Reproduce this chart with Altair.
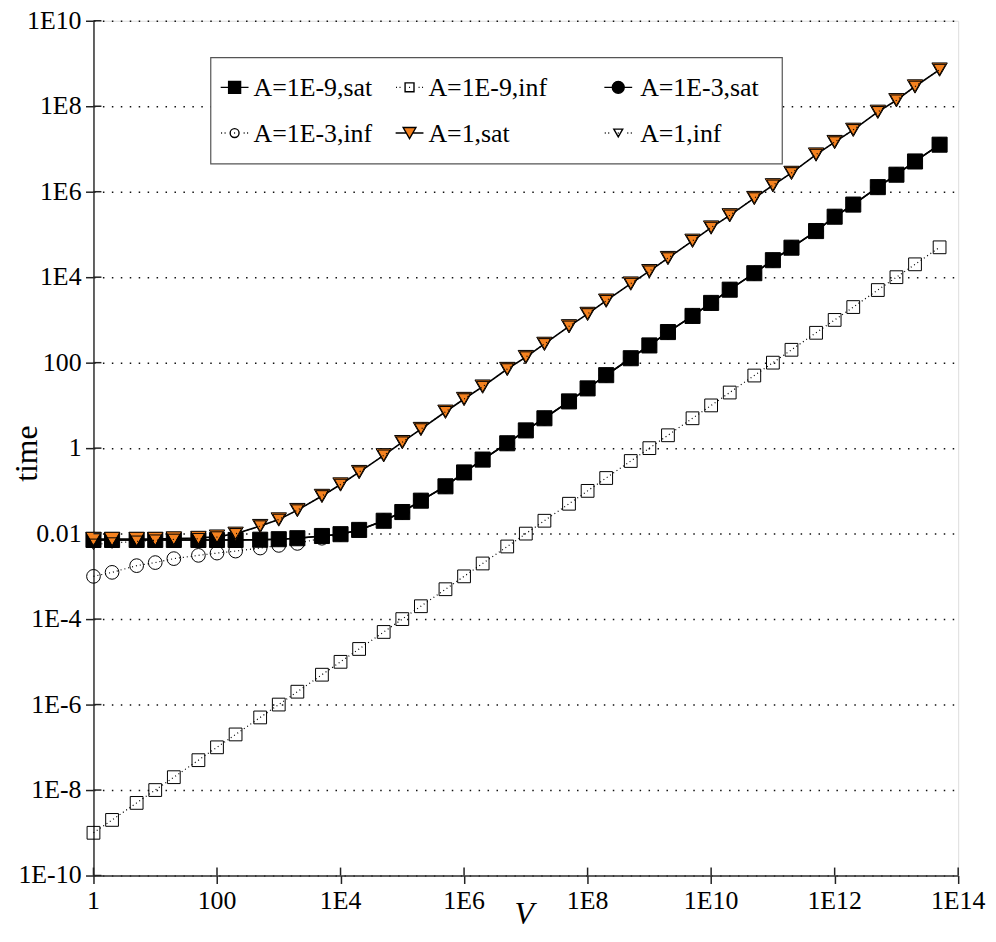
import altair as alt
import pandas as pd

# ---------------- data ----------------
V = [1, 2, 5, 10, 20, 50, 100, 200, 500,
     1e3, 2e3, 5e3, 1e4, 2e4, 5e4, 1e5, 2e5, 5e5,
     1e6, 2e6, 5e6, 1e7, 2e7, 5e7, 1e8, 2e8, 5e8,
     1e9, 2e9, 5e9, 1e10, 2e10, 5e10, 1e11, 2e11, 5e11,
     1e12, 2e12, 5e12, 1e13, 2e13, 5e13]

sat_1e9 = [0.0071, 0.0071, 0.0071, 0.0071, 0.0071, 0.0071, 0.0071, 0.0071, 0.0072,
           0.0074, 0.0078, 0.0088, 0.0097, 0.0122, 0.020, 0.032, 0.059, 0.128,
           0.27, 0.54, 1.3, 2.6, 5.0, 12.4, 25, 51, 127,
           253, 520, 1240, 2500, 5100, 12400, 25000, 49000, 1.2e5,
           2.6e5, 5.0e5, 1.28e6, 2.5e6, 5.1e6, 1.26e7]

inf_1e9 = [1e-9, 2e-9, 5e-9, 1e-8, 2e-8, 5e-8, 1e-7, 2e-7, 5e-7,
           1e-6, 2e-6, 5e-6, 1e-5, 2e-5, 5e-5, 1e-4, 2e-4, 5e-4,
           1e-3, 2e-3, 5e-3, 1e-2, 2e-2, 5e-2, 0.1, 0.2, 0.5,
           1, 2, 5, 10, 20, 50, 100, 200, 500,
           1e3, 2e3, 5e3, 1e4, 2e4, 5e4]

sat_1e3 = [0.0071, 0.0071, 0.0071, 0.0071, 0.0071, 0.0071, 0.0071, 0.0071, 0.0072,
           0.0074, 0.0078, 0.0088, 0.0097, 0.0122, 0.020, 0.032, 0.059, 0.128,
           0.27, 0.54, 1.3, 2.6, 5.0, 12.4, 25, 51, 127,
           253, 520, 1240, 2500, 5100, 12400, 25000, 49000, 1.2e5,
           2.6e5, 5.0e5, 1.28e6, 2.5e6, 5.1e6, 1.26e7]

inf_1e3 = [0.0010, 0.00124, 0.00178, 0.0021, 0.0026, 0.0031, 0.0035, 0.0039, 0.0046,
           0.0053, 0.0059, 0.0078, 0.0097, 0.0122, 0.020, 0.032, 0.059, 0.128,
           0.27, 0.54, 1.3, 2.6, 5.0, 12.4, 25, 51, 127,
           253, 520, 1240, 2500, 5100, 12400, 25000, 49000, 1.2e5,
           2.6e5, 5.0e5, 1.28e6, 2.5e6, 5.1e6, 1.26e7]

sat_1 = [0.0075, 0.0075, 0.0075, 0.0075, 0.0077, 0.0079, 0.0085, 0.0099, 0.0150,
         0.0214, 0.0355, 0.076, 0.141, 0.275, 0.68, 1.38, 2.8, 7.1,
         14.1, 27.5, 71, 135, 275, 708, 1380, 2820, 7080,
         1.38e4, 2.8e4, 7.1e4, 1.45e5, 2.8e5, 7.1e5, 1.41e6, 2.75e6, 7.4e6,
         1.45e7, 2.8e7, 7.4e7, 1.38e8, 2.9e8, 7.2e8]

inf_1 = [0.0056, 0.0060, 0.0066, 0.0070, 0.0073, 0.0076, 0.0083, 0.0099, 0.0150,
         0.0214, 0.0355, 0.076, 0.141, 0.275, 0.68, 1.38, 2.8, 7.1,
         14.1, 27.5, 71, 135, 275, 708, 1380, 2820, 7080,
         1.38e4, 2.8e4, 7.1e4, 1.45e5, 2.8e5, 7.1e5, 1.41e6, 2.75e6, 7.4e6,
         1.45e7, 2.8e7, 7.4e7, 1.38e8, 2.9e8, 7.2e8]

series_names = ["A=1E-9,sat", "A=1E-9,inf", "A=1E-3,sat",
                "A=1E-3,inf", "A=1,sat", "A=1,inf"]
series_values = [sat_1e9, inf_1e9, sat_1e3, inf_1e3, sat_1, inf_1]

x_ticks = [1, 100, 1e4, 1e6, 1e8, 1e10, 1e12, 1e14]
x_tick_labels = ["1", "100", "1E4", "1E6", "1E8", "1E10", "1E12", "1E14"]
y_ticks = [1e-10, 1e-8, 1e-6, 1e-4, 1e-2, 1, 100, 1e4, 1e6, 1e8, 1e10]
y_tick_labels = ["1E-10", "1E-8", "1E-6", "1E-4", "0.01", "1", "100",
                 "1E4", "1E6", "1E8", "1E10"]

ORANGE = "#f5821f"
FONT = "Liberation Serif"
FS = 26

rows = []
for name, vals in zip(series_names, series_values):
    for v, t in zip(V, vals):
        rows.append({"series": name, "V": v, "time": t})
df = pd.DataFrame(rows)

W, H = 870, 860

x_scale = alt.Scale(type="log", domain=[1, 1e14], nice=False)
y_scale = alt.Scale(type="log", domain=[1e-10, 1e10], nice=False)

x_enc = alt.X("V:Q", scale=x_scale,
              axis=alt.Axis(values=x_ticks, labels=False, title="V",
                            titleFontStyle="italic", titleFontWeight="normal",
                            titleFont=FONT, titleFontSize=32,
                            titleX=433, titleY=48, titleBaseline="alphabetic",
                            tickSize=8, tickColor="#222",
                            tickWidth=1.5, domainColor="#333", domainWidth=1.5,
                            grid=False))

y_enc = alt.Y("time:Q", scale=y_scale,
              axis=alt.Axis(values=y_ticks, labels=False, title="time",
                            titleFontWeight="normal", titleFont=FONT,
                            titleFontSize=32, titleAngle=270,
                            titleX=-57, titleY=435, titleBaseline="alphabetic",
                            titleAlign="center",
                            tickSize=8, tickColor="#222",
                            tickWidth=1.5, domainColor="#333", domainWidth=1.5,
                            grid=True, gridColor="#111", gridDash=[1.5, 7.5],
                            gridWidth=1.5))

styles = {
    "A=1E-9,sat": dict(shape="square", size=230, fill="black", dash=None),
    "A=1E-9,inf": dict(shape="square", size=165, fill="transparent", dash=[1, 3]),
    "A=1E-3,sat": dict(shape="circle", size=180, fill="black", dash=None),
    "A=1E-3,inf": dict(shape="circle", size=190, fill="transparent", dash=[1, 3]),
    "A=1,sat": dict(shape="triangle-down", size=240, fill=ORANGE, dash=None),
    "A=1,inf": dict(shape="triangle-down", size=150, fill="transparent", dash=[1, 3]),
}

layers = []
for name in series_names:
    st = styles[name]
    base = alt.Chart(df).transform_filter(alt.datum.series == name)
    if st["dash"] is None:
        line = base.mark_line(color="black", strokeWidth=1.6)
    else:
        line = base.mark_line(color="black", strokeWidth=1.2, strokeDash=st["dash"])
    pts = base.mark_point(shape=st["shape"], size=st["size"], filled=True,
                          fill=st["fill"], stroke="black", strokeWidth=1,
                          opacity=1)
    layers.append(line.encode(x=x_enc, y=y_enc))
    layers.append(pts.encode(x=x_enc, y=y_enc))

# inward half of the crossing ticks + tick labels (through the scales)
xt = pd.DataFrame({"V": x_ticks, "label": x_tick_labels})
yt = pd.DataFrame({"time": y_ticks, "label": y_tick_labels})
layers.append(alt.Chart(xt).mark_rule(color="#222", strokeWidth=1.5).encode(
    x=x_enc, y=alt.value(H), y2=alt.value(H - 8)))
layers.append(alt.Chart(yt).mark_rule(color="#222", strokeWidth=1.5).encode(
    y=y_enc, x=alt.value(0), x2=alt.value(8)))
layers.append(alt.Chart(xt).mark_text(font=FONT, fontSize=FS, color="black",
                                      align="center", baseline="alphabetic").encode(
    x=x_enc, y=alt.value(H + 34), text="label:N"))
layers.append(alt.Chart(yt).mark_text(font=FONT, fontSize=FS, color="black",
                                      align="right", baseline="middle").encode(
    y=y_enc, x=alt.value(-12), text="label:N"))

# ---------------- legend (box, symbol samples, labels) ----------------
dots = "M-0.97,0H-0.9M-0.72,0H-0.65M0.65,0H0.72M0.9,0H0.97M-0.035,0H0.035"
paths = [
    "M-1,0H1M-0.43,-0.43H0.43V0.43H-0.43Z",
    dots + "M-0.32,-0.32H0.32V0.32H-0.32Z",
    "M-1,0H1M-0.43,0A0.43 0.43 0 1 0 0.43,0A0.43 0.43 0 1 0 -0.43,0Z",
    dots + "M-0.32,0A0.32 0.32 0 1 0 0.32,0A0.32 0.32 0 1 0 -0.32,0Z",
    "M-1,0H-0.2M0.2,0H1M-0.46,-0.4H0.46L0,0.4Z",
    dots + "M-0.32,-0.28H0.32L0,0.28Z",
]
fills = ["black", "transparent", "black", "transparent", ORANGE, "transparent"]

one = pd.DataFrame({"k": [0]})
layers.append(alt.Chart(one).mark_rect(fill="white", stroke="#555",
                                       strokeWidth=1.2).encode(
    x=alt.value(118), x2=alt.value(693), y=alt.value(37), y2=alt.value(144)))

col_sym = [142, 318, 528]
col_txt = [161, 337, 550]
row_y = [67, 113]
for i, name in enumerate(series_names):
    r, c = divmod(i, 3)
    layers.append(alt.Chart(one).mark_point(
        shape=paths[i], size=784, filled=True, fill=fills[i], stroke="black",
        strokeWidth=1.4, opacity=1).encode(
        x=alt.value(col_sym[c]), y=alt.value(row_y[r])))
    layers.append(alt.Chart(one).mark_text(
        text=name, font=FONT, fontSize=FS, color="black", align="left",
        baseline="middle").encode(
        x=alt.value(col_txt[c]), y=alt.value(row_y[r] + 1)))

chart = alt.layer(*layers).properties(
    width=W, height=H,
    padding={"left": 86, "top": 10, "right": 30, "bottom": 56},
    autosize=alt.AutoSizeParams(type="none"),
).configure_view(
    stroke="#888", strokeWidth=1
).configure(
    background="white"
)

chart.save("out.html", embed_options={"renderer": "svg", "actions": False})
